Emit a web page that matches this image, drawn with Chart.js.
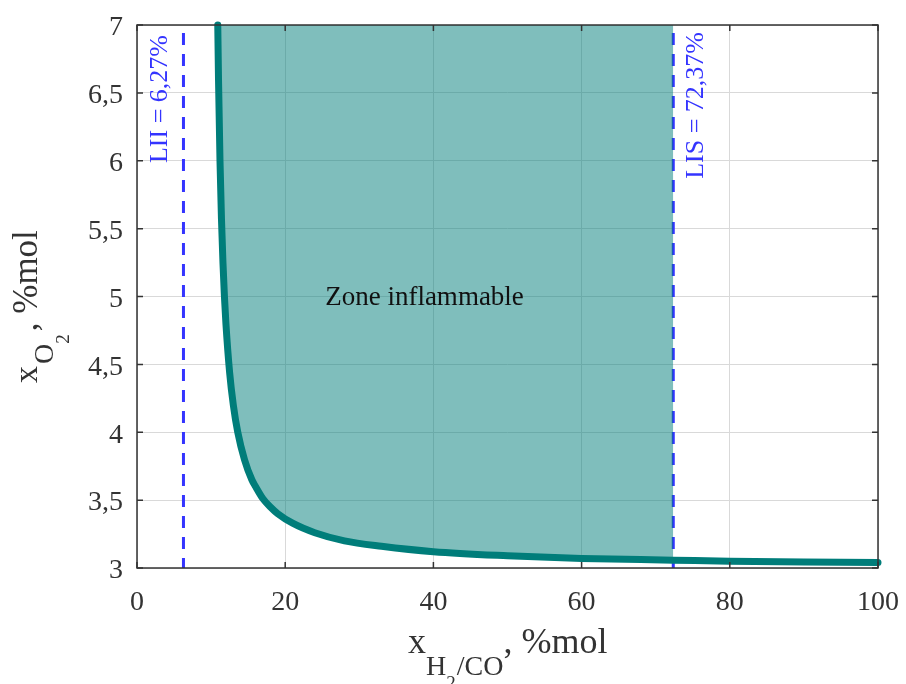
<!DOCTYPE html>
<html>
<head>
<meta charset="utf-8">
<script src="https://cdn.jsdelivr.net/npm/chart.js@4.4.1/dist/chart.umd.min.js"></script>
<style>
html,body{margin:0;padding:0;background:#fff;}
#wrap{width:906px;height:684px;position:relative;}
</style>
</head>
<body>
<div id="wrap"><canvas id="c"></canvas></div>
<script>
// ---- data ----
const curveX = [10.9, 11.0, 11.2, 11.4, 11.6, 11.8, 12.0, 12.5, 13.0, 13.6, 14.5, 15.5, 16, 17, 18, 19, 21, 24, 28, 33, 40, 50, 60, 72.37, 80, 90, 100];
const curveY = [7.0, 6.6, 6.0, 5.57, 5.25, 5.0, 4.8, 4.44, 4.2, 4.0, 3.8, 3.65, 3.6, 3.51, 3.45, 3.40, 3.33, 3.26, 3.20, 3.16, 3.12, 3.09, 3.07, 3.058, 3.05, 3.045, 3.04];
const LII = 6.27;
const LIS = 72.37;
const xTicks = [0, 20, 40, 60, 80, 100];
const yTicks = [3, 3.5, 4, 4.5, 5, 5.5, 6, 6.5, 7];
const labelLII = 'LII = 6,27%';
const labelLIS = 'LIS = 72,37%';
const zoneLabel = 'Zone inflammable';

const curvePts = curveX.map((x, i) => ({x: x, y: curveY[i]}));
const fillPts = curvePts.filter(p => p.x <= LIS);

const SERIF = "'Liberation Serif', 'Times New Roman', serif";
const TEAL = '#007d7a';
const BLUE = '#3434ff';

function drawRich(ctx, parts, x, y) {
  let cx = x;
  parts.forEach(p => {
    ctx.font = p.size + 'px ' + SERIF;
    ctx.fillText(p.t, cx, y + (p.dy || 0));
    cx += ctx.measureText(p.t).width + (p.gap || 0);
  });
}

const decor = {
  id: 'decor',
  afterDraw(chart) {
    const ctx = chart.ctx;
    const a = chart.chartArea;
    const xs = chart.scales.x, ys = chart.scales.y;
    ctx.save();
    // frame
    ctx.strokeStyle = '#333';
    ctx.lineWidth = 1.5;
    ctx.strokeRect(a.left, a.top, a.right - a.left, a.bottom - a.top);
    // inward ticks
    const tl = 6;
    ctx.beginPath();
    xTicks.forEach(v => {
      const px = xs.getPixelForValue(v);
      ctx.moveTo(px, a.bottom); ctx.lineTo(px, a.bottom - tl);
      ctx.moveTo(px, a.top); ctx.lineTo(px, a.top + tl);
    });
    yTicks.forEach(v => {
      const py = ys.getPixelForValue(v);
      ctx.moveTo(a.left, py); ctx.lineTo(a.left + tl, py);
      ctx.moveTo(a.right, py); ctx.lineTo(a.right - tl, py);
    });
    ctx.stroke();

    // annotations
    ctx.fillStyle = BLUE;
    ctx.font = '26px ' + SERIF;
    ctx.textBaseline = 'middle';
    ctx.textAlign = 'right';
    ctx.save();
    ctx.translate(xs.getPixelForValue(LII) - 23, a.top + 10);
    ctx.rotate(-Math.PI / 2);
    ctx.fillText(labelLII, 0, 0);
    ctx.restore();
    ctx.save();
    ctx.translate(xs.getPixelForValue(LIS) + 23, a.top + 7);
    ctx.rotate(-Math.PI / 2);
    ctx.fillText(labelLIS, 0, 0);
    ctx.restore();

    ctx.fillStyle = '#111';
    ctx.font = '27px ' + SERIF;
    ctx.textAlign = 'center';
    ctx.fillText(zoneLabel, xs.getPixelForValue(38.8), ys.getPixelForValue(5.0) + 1);

    // axis titles
    ctx.fillStyle = '#333';
    ctx.textAlign = 'left';
    ctx.textBaseline = 'alphabetic';
    drawRich(ctx, [
      {t: 'x', size: 36},
      {t: 'H', size: 28, dy: 22},
      {t: '2', size: 19, dy: 36, gap: 1},
      {t: '/CO', size: 28, dy: 22},
      {t: ', %mol', size: 36}
    ], 408, 653);

    ctx.save();
    ctx.translate(37, 383);
    ctx.rotate(-Math.PI / 2);
    drawRich(ctx, [
      {t: 'x', size: 34, gap: 2},
      {t: 'O', size: 28, dy: 16},
      {t: '2', size: 19, dy: 32, gap: 3},
      {t: ', %mol', size: 35}
    ], 0, 0);
    ctx.restore();
    ctx.restore();
  }
};

new Chart(document.getElementById('c'), {
  type: 'scatter',
  data: {
    datasets: [
      {
        label: 'zone',
        data: fillPts,
        showLine: true,
        borderWidth: 0,
        pointRadius: 0,
        fill: 'end',
        backgroundColor: 'rgba(0,125,122,0.5)',
        borderColor: 'rgba(0,0,0,0)',
        cubicInterpolationMode: 'monotone'
      },
      {
        label: 'curve',
        data: curvePts,
        showLine: true,
        borderWidth: 7,
        borderColor: TEAL,
        borderCapStyle: 'round',
        borderJoinStyle: 'round',
        pointRadius: 0,
        fill: false,
        clip: 8,
        cubicInterpolationMode: 'monotone'
      },
      {
        label: 'LII',
        data: [{x: LII, y: 7}, {x: LII, y: 3}],
        showLine: true,
        borderWidth: 3,
        borderColor: BLUE,
        borderDash: [12, 9],
        borderDashOffset: 13,
        pointRadius: 0,
        fill: false
      },
      {
        label: 'LIS',
        data: [{x: LIS, y: 7}, {x: LIS, y: 3}],
        showLine: true,
        borderWidth: 3,
        borderColor: BLUE,
        borderDash: [12, 9],
        borderDashOffset: 13,
        pointRadius: 0,
        fill: false
      }
    ]
  },
  options: {
    responsive: true,
    maintainAspectRatio: false,
    animation: false,
    layout: {padding: {left: 0, top: 25, right: 28, bottom: 0}},
    plugins: {legend: {display: false}, tooltip: {enabled: false}},
    scales: {
      x: {
        type: 'linear',
        min: 0, max: 100,
        afterFit(s) { s.height = 116; s.paddingLeft = 0; s.paddingRight = 0; },
        afterBuildTicks(s) { s.ticks = xTicks.map(v => ({value: v})); },
        grid: {color: '#d9d9d9', lineWidth: 1, drawTicks: false},
        border: {display: false},
        ticks: {
          padding: 18,
          color: '#333',
          font: {family: SERIF, size: 28},
          maxRotation: 0,
          callback: v => String(v)
        }
      },
      y: {
        type: 'linear',
        min: 3, max: 7,
        afterFit(s) { s.width = 137; s.paddingTop = 0; s.paddingBottom = 0; },
        afterBuildTicks(s) { s.ticks = yTicks.map(v => ({value: v})); },
        grid: {color: '#d9d9d9', lineWidth: 1, drawTicks: false},
        border: {display: false},
        ticks: {
          padding: 14,
          labelOffset: 3,
          color: '#333',
          font: {family: SERIF, size: 28},
          callback: v => String(v).replace('.', ',')
        }
      }
    }
  },
  plugins: [decor]
});
</script>
</body>
</html>
